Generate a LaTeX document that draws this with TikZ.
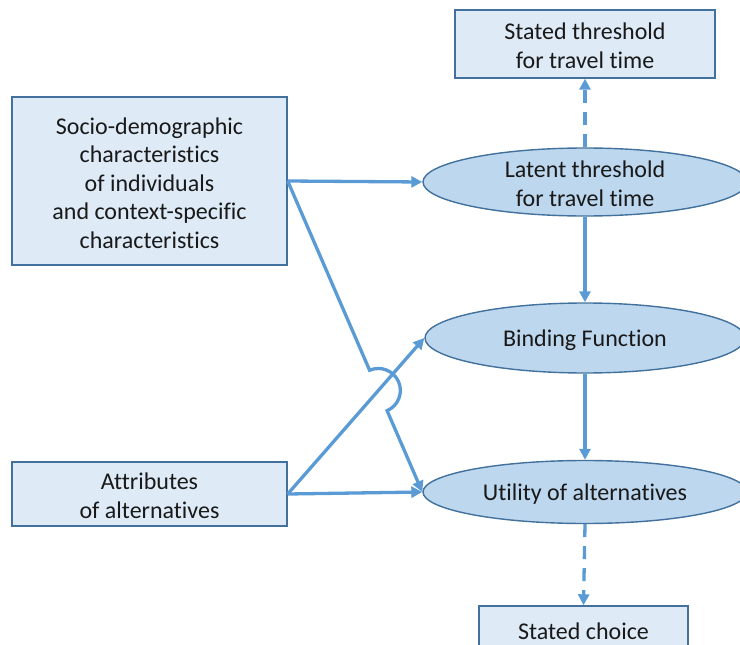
\documentclass[tikz,border=0pt]{standalone}
\usepackage{fontspec}
\setmainfont{Carlito}[Ligatures={NoCommon}]
\usetikzlibrary{shapes.geometric,arrows.meta,calc,intersections}
\definecolor{lineblue}{HTML}{5B9BD5}
\definecolor{boxfill}{HTML}{DEEBF7}
\definecolor{ellfill}{HTML}{BDD7EE}
\definecolor{edgeblue}{HTML}{41719C}
\begin{document}
\begin{tikzpicture}[x=1pt,y=1pt,
  every node/.style={font=\fontsize{24}{28.5}\selectfont, text=black!90},
  rectbox/.style={draw=edgeblue, line width=1.4pt, fill=boxfill, inner sep=0pt},
  ellbox/.style={ellipse, draw=edgeblue, line width=1.4pt, fill=ellfill, inner sep=0pt},
  label/.style={align=center, inner sep=0pt, yshift=-2pt},
  conn/.style={draw=lineblue, line width=3.3pt, -{Triangle[length=11pt,width=11pt]}},
  dconn/.style={conn, dash pattern=on 13pt off 9pt}]
\clip (0,0) rectangle (740,-645);
% rectangles
\node[rectbox, minimum width=260, minimum height=68] (sth) at (585,-44) {};
\node[label] (stht) at (sth) {Stated threshold\\for travel time};
\node[rectbox, minimum width=275, minimum height=168] (soc) at (149.5,-181) {};
\node[label] (soct) at (soc) {Socio-demographic\\characteristics\\of individuals\\and context-specific\\characteristics};
\node[rectbox, minimum width=275, minimum height=64] (attr) at (149.5,-494) {};
\node[label] (attrt) at (attr) {Attributes\\of alternatives};
\node[rectbox, minimum width=209, minimum height=46] (choice) at (583.5,-629) {};
\node[label] (choicet) at (choice) {Stated choice};
% ellipses
\node[ellbox, minimum width=324, minimum height=68] (lat) at (585,-182) {};
\node[label] (latt) at (lat) {Latent threshold\\for travel time};
\node[ellbox, minimum width=320, minimum height=70] (bind) at (585,-338) {};
\node[label] (bindt) at (bind) {Binding Function};
\node[ellbox, minimum width=324, minimum height=63] (util) at (585,-492) {};
\node[label] (utilt) at (util) {Utility of alternatives};
% connectors
\draw[conn] (soc.east) -- (lat.west);
\draw[conn] (lat.south) -- (bind.north);
\draw[conn] (bind.south) -- (util.north);
\draw[dconn] (lat.north) -- (sth.south);
\draw[dconn] (util.south) -- (choice.north);
\draw[conn] (attr.east) -- (util.west);
\draw[conn, name path=p2] (attr.east) -- (bind.west);
\path[name path=p1] (soc.east) -- (util.west);
\path[name intersections={of=p1 and p2, by=X}];
\draw[conn] (soc.east) -- ($(X)!22pt!(soc.east)$)
  let \p1=($(util.west)-(soc.east)$), \n1={atan2(\y1,\x1)} in
  arc[start angle=\n1+180, end angle=\n1, radius=22pt] -- (util.west);
\end{tikzpicture}
\end{document}
